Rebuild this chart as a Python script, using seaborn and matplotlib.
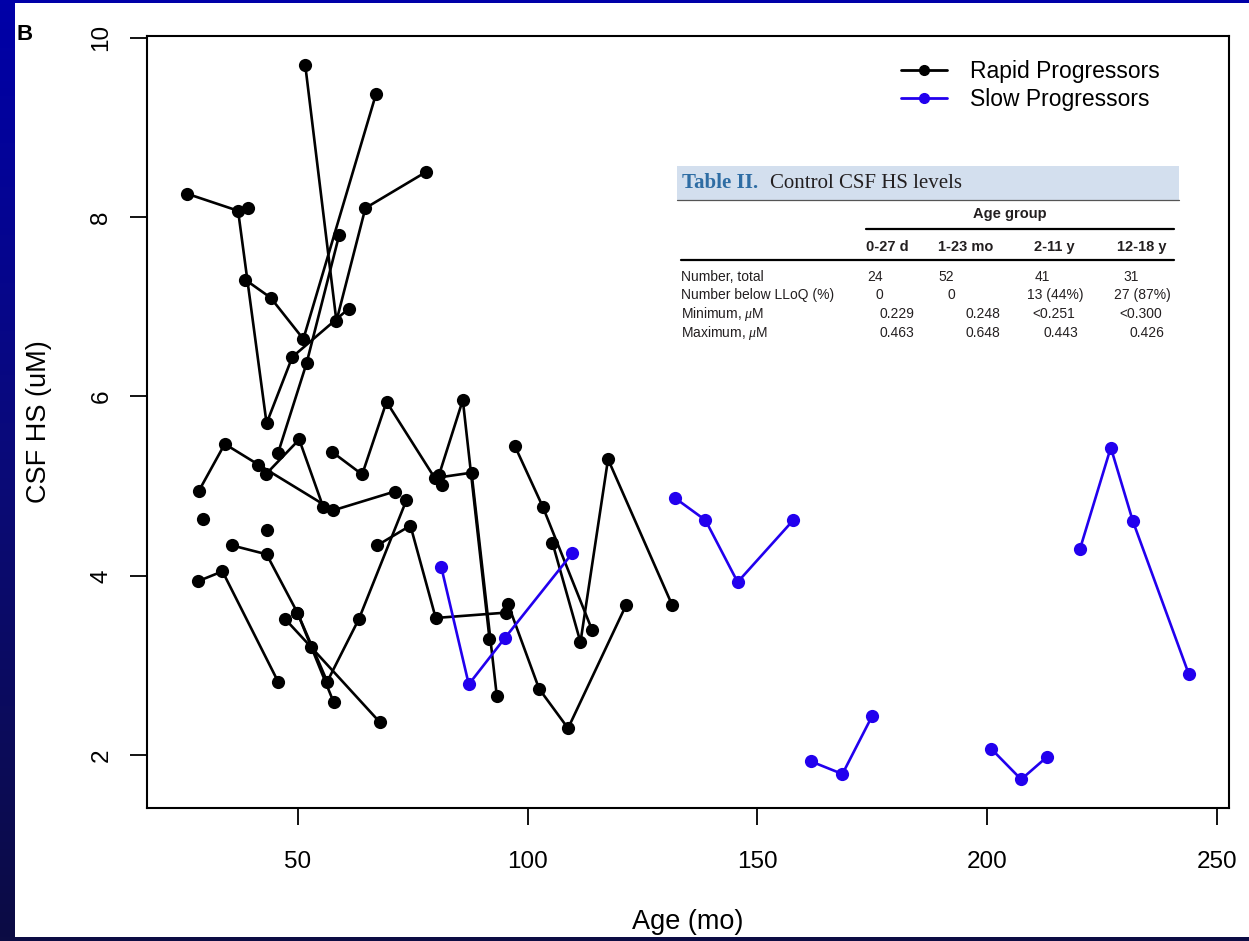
import numpy as np
import pandas as pd
import matplotlib
matplotlib.use("Agg")
import matplotlib.pyplot as plt
from matplotlib.lines import Line2D
from matplotlib.patches import Rectangle
from matplotlib.colors import LinearSegmentedColormap
import seaborn as sns

# ---- longitudinal CSF HS measurements (age in months, HS in uM) ----
rapid_id = ([1] * 5 + [2] * 4 + [3] * 4 + [4] * 3 + [5] * 5 + [6] * 3 + [7] * 6 + [8] * 3
            + [9] * 3 + [10] * 4 + [11] * 4 + [12] * 3 + [13] * 8 + [14] * 3 + [15] * 4
            + [16, 17, 18, 19])
rapid_age = [25.9, 37.0, 43.2, 48.8, 61.1,
             38.6, 44.1, 51.2, 67.0,
             51.6, 58.4, 64.7, 77.8,
             45.7, 51.9, 59.0,
             28.5, 34.1, 41.4, 57.7, 71.1,
             43.0, 50.3, 55.5,
             57.5, 64.0, 69.3, 79.8, 87.8, 93.3,
             80.7, 85.9, 91.7,
             28.3, 33.6, 45.7,
             35.6, 43.2, 49.9, 57.8,
             49.9, 56.4, 63.3, 73.6,
             47.2, 52.8, 67.8,
             67.3, 74.5, 80.0, 95.4, 95.7, 102.5, 108.8, 121.4,
             97.2, 103.3, 114.0,
             105.4, 111.5, 117.5, 131.4,
             39.1, 29.4, 43.2, 81.4]
rapid_hs = [8.26, 8.07, 5.70, 6.44, 6.98,
            7.30, 7.10, 6.64, 9.37,
            9.70, 6.84, 8.10, 8.50,
            5.37, 6.37, 7.80,
            4.95, 5.47, 5.24, 4.73, 4.94,
            5.13, 5.52, 4.77,
            5.38, 5.13, 5.94, 5.09, 5.15, 2.66,
            5.12, 5.96, 3.30,
            3.94, 4.05, 2.82,
            4.34, 4.24, 3.59, 2.59,
            3.59, 2.82, 3.52, 4.84,
            3.52, 3.21, 2.37,
            4.34, 4.56, 3.53, 3.59, 3.69, 2.74, 2.30, 3.67,
            5.45, 4.77, 3.40,
            4.37, 3.26, 5.30, 3.68,
            8.10, 4.63, 4.51, 5.01]

slow_id = [1] * 4 + [2] * 4 + [3] * 3 + [4] * 3 + [5] * 4
slow_age = [81.2, 87.2, 95.1, 109.7,
            132.0, 138.7, 145.7, 157.8,
            161.7, 168.5, 175.0,
            200.9, 207.4, 213.0,
            220.2, 226.9, 231.7, 243.9]
slow_hs = [4.10, 2.79, 3.31, 4.25,
           4.87, 4.62, 3.93, 4.62,
           1.93, 1.79, 2.44,
           2.07, 1.73, 1.98,
           4.30, 5.43, 4.61, 2.90]

group_names = ["Rapid Progressors", "Slow Progressors"]
x_ticks = [50, 100, 150, 200, 250]
y_ticks = [2, 4, 6, 8, 10]

# ---- control table ----
table_title = ["Table II.", "Control CSF HS levels"]
table_group = "Age group"
table_cols = ["0-27 d", "1-23 mo", "2-11 y", "12-18 y"]
table_rows = ["Number, total", "Number below LLoQ (%)", r"Minimum, $\mu$M", r"Maximum, $\mu$M"]
table_vals = [["24", "52", "41", "31"],
              ["0", "0", "13 (44%)", "27 (87%)"],
              ["0.229", "0.248", "<0.251", "<0.300"],
              ["0.463", "0.648", "0.443", "0.426"]]

# ---- styling ----
sns.set_style("white")
plt.rcParams["font.family"] = ["Liberation Sans", "DejaVu Sans"]
plt.rcParams["mathtext.fontset"] = "custom"
plt.rcParams["mathtext.it"] = "Liberation Serif:italic"
plt.rcParams["mathtext.rm"] = "Liberation Sans"
plt.rcParams["text.color"] = "black"
plt.rcParams["axes.labelcolor"] = "black"
plt.rcParams["xtick.color"] = "black"
plt.rcParams["ytick.color"] = "black"

W, H = 1249, 941
BLUE = "#2200ee"
INK = "#231f20"
palette = {group_names[0]: "black", group_names[1]: BLUE}


def fx(px):
    return px / W


def fy(py):
    return 1 - py / H


fig = plt.figure(figsize=(W / 100, H / 100), dpi=100)

# slide frame: navy gradient edge around a white panel
bg = fig.add_axes([0, 0, 1, 1], zorder=-10)
grad = np.linspace(0, 1, 256).reshape(-1, 1)
frame_cmap = LinearSegmentedColormap.from_list("frame", ["#0000a8", "#0a0a78", "#0c0c44"])
bg.imshow(grad, extent=[0, 1, 0, 1], aspect="auto", cmap=frame_cmap, origin="upper")
bg.add_patch(Rectangle((fx(15), fy(937)), fx(W) - fx(15), fy(3) - fy(937),
                       facecolor="white", edgecolor="none"))
bg.set_xlim(0, 1)
bg.set_ylim(0, 1)
bg.axis("off")

ax = fig.add_axes([fx(147), fy(808), fx(1229) - fx(147), fy(36) - fy(808)])
ax.set_facecolor("white")

rapid = pd.DataFrame({"subject": [f"R{i}" for i in rapid_id], "age": rapid_age,
                      "hs": rapid_hs, "group": group_names[0]})
slow = pd.DataFrame({"subject": [f"S{i}" for i in slow_id], "age": slow_age,
                     "hs": slow_hs, "group": group_names[1]})
df = pd.concat([rapid, slow], ignore_index=True)

sns.lineplot(data=df, x="age", y="hs", hue="group", units="subject", estimator=None,
             palette=palette, marker="o", markersize=9.5, markeredgewidth=0,
             linewidth=1.9, legend=False, ax=ax)

# axis ranges padded 4% beyond the data, as in base R
xr = df["age"].max() - df["age"].min()
yr = df["hs"].max() - df["hs"].min()
ax.set_xlim(df["age"].min() - 0.04 * xr, df["age"].max() + 0.04 * xr)
ax.set_ylim(df["hs"].min() - 0.04 * yr, df["hs"].max() + 0.04 * yr)

ax.set_xticks(x_ticks)
ax.set_yticks(y_ticks)
ax.set_xticklabels([str(t) for t in x_ticks])
ax.set_yticklabels([str(t) for t in y_ticks], rotation=90, va="center")
ax.tick_params(axis="both", direction="out", length=12, width=1.3, color="black",
               labelsize=17.5, labelcolor="black", bottom=True, left=True,
               top=False, right=False)
ax.tick_params(axis="x", pad=19)
ax.tick_params(axis="y", pad=13)
for sp in ax.spines.values():
    sp.set_visible(True)
    sp.set_linewidth(1.5)
    sp.set_color("black")

ax.set_xlabel("Age (mo)", fontsize=19.5, va="center", color="black")
ax.set_ylabel("CSF HS (uM)", fontsize=19.5, va="center", color="black")
ax.xaxis.set_label_coords(0.5, -(922 - 808) / (808 - 36))
ax.yaxis.set_label_coords(-(147 - 39) / (1229 - 147), 0.5)

fig.text(fx(17), fy(34), "B", fontsize=16, fontweight="bold", ha="left", va="center")

# legend
handles = [Line2D([], [], color=palette[g], marker="o", markersize=7, linewidth=2)
           for g in group_names]
ax.legend(handles, group_names, loc="upper left", bbox_to_anchor=(fx(901), fy(60)),
          bbox_transform=fig.transFigure, frameon=False, fontsize=16.5,
          handlelength=2.0, handletextpad=1.0, labelspacing=0.22, borderpad=0,
          borderaxespad=0)

# ---- inset table ----
fig.add_artist(Rectangle((fx(677), fy(200)), fx(1179) - fx(677), fy(166) - fy(200),
                         transform=fig.transFigure, facecolor="#d3dfee", edgecolor="none"))
fig.add_artist(Line2D([fx(677), fx(1179)], [fy(200), fy(200)], transform=fig.transFigure,
                      color="#555555", linewidth=0.9))
fig.text(fx(682), fy(183), table_title[0], fontsize=15, family="Liberation Serif",
         fontweight="bold", color="#2e6da4", ha="left", va="center")
fig.text(fx(770), fy(183), table_title[1], fontsize=15, family="Liberation Serif",
         color=INK, ha="left", va="center")

fig.text(fx(1010), fy(214), table_group, fontsize=10.5, fontweight="bold",
         ha="center", va="center", color=INK)
fig.add_artist(Line2D([fx(866), fx(1174)], [fy(229), fy(229)], transform=fig.transFigure,
                      color="black", linewidth=1.6))
col_left = [866, 938, 1034, 1117]
for x0, c in zip(col_left, table_cols):
    fig.text(fx(x0), fy(247), c, fontsize=10.5, fontweight="bold",
             ha="left", va="center", color=INK)
fig.add_artist(Line2D([fx(681), fx(1174)], [fy(260), fy(260)], transform=fig.transFigure,
                      color="black", linewidth=1.6))

row_y = [277, 295, 314, 333]
val_x = [[867, 938, 1035, 1123],
         [876, 948, 1027, 1114],
         [880, 966, 1032, 1119],
         [880, 966, 1043, 1130]]
for r, (yy, lab) in enumerate(zip(row_y, table_rows)):
    fig.text(fx(681), fy(yy), lab, fontsize=10, ha="left", va="center", color=INK)
    for c in range(4):
        fig.text(fx(val_x[r][c]), fy(yy), table_vals[r][c], fontsize=10,
                 ha="left", va="center", color=INK)

fig.savefig("out.png", dpi=100)
